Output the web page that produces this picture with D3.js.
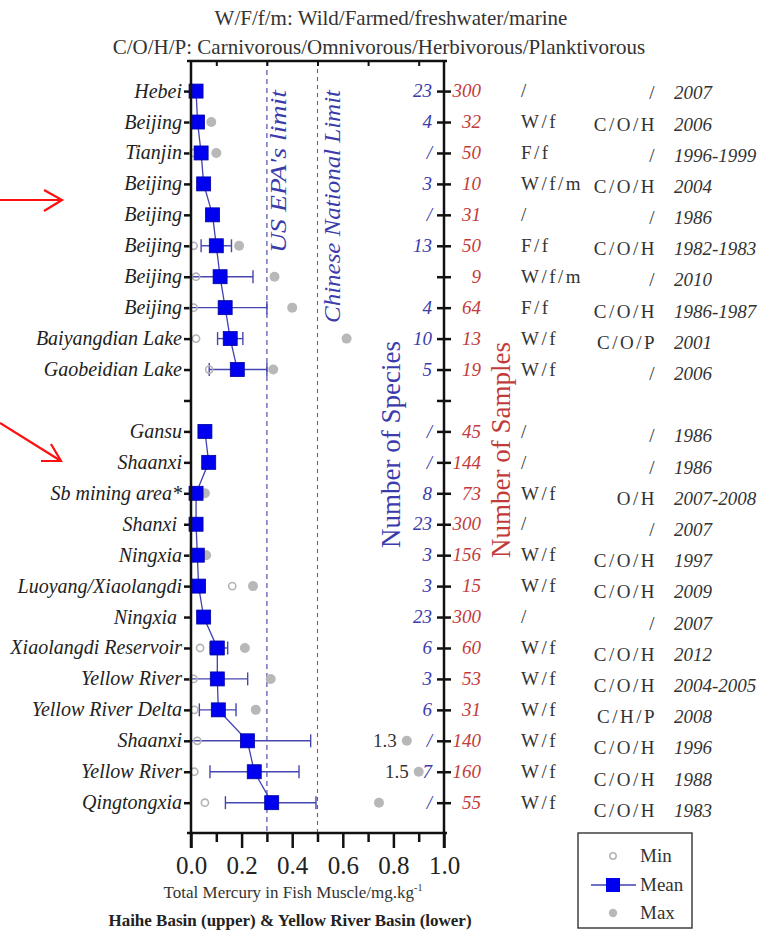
<!DOCTYPE html>
<html>
<head>
<meta charset="utf-8">
<script src="https://cdn.jsdelivr.net/npm/d3@7"></script>
</head>
<body style="margin:0; background:#fff">
<svg id="chart" width="774" height="939"></svg>
<script>
// rows top to bottom, "" = gap between Haihe basin and Yellow River basin
const regions = ["Hebei","Beijing","Tianjin","Beijing","Beijing","Beijing","Beijing","Beijing","Baiyangdian Lake","Gaobeidian Lake",
                 "","Gansu","Shaanxi","Sb mining area*","Shanxi\u00a0","Ningxia","Luoyang/Xiaolangdi","Ningxia\u00a0","Xiaolangdi Reservoir",
                 "Yellow River","Yellow River Delta","Shaanxi","Yellow River","Qingtongxia"];
const basin   = ["H","H","H","H","H","H","H","H","H","H","","Y","Y","Y","Y","Y","Y","Y","Y","Y","Y","Y","Y","Y"];
const meanV   = [0.02,0.026,0.04,0.05,0.085,0.10,0.115,0.135,0.155,0.183,null,
                 0.055,0.07,0.02,0.02,0.025,0.03,0.05,0.104,0.104,0.108,0.223,0.25,0.319];
const errLo   = [null,null,null,null,null,0.04,0.0,0.0,0.105,0.072,null,
                 null,null,null,null,null,null,null,0.075,0.0,0.033,0.0,0.075,0.136];
const errHi   = [null,null,null,null,null,0.16,0.245,0.30,0.205,0.30,null,
                 null,null,null,null,null,null,null,0.145,0.224,0.178,0.473,0.427,0.494];
const minV    = [null,0.01,0.01,null,null,0.01,0.02,0.01,0.02,0.072,null,
                 null,null,0.01,null,0.01,0.163,null,0.036,0.01,0.013,0.025,0.013,0.055];
const maxV    = [null,0.08,0.10,null,null,0.19,0.33,0.40,0.615,0.325,null,
                 null,null,0.055,null,0.06,0.245,null,0.213,0.315,0.256,1.3,1.5,0.743];
// off-scale maxima are drawn at a broken position on the x axis
const brokenAt = {1.3: 0.853, 1.5: 0.9};
const species = ["23","4","/","3","/","13","","4","10","5","",
                 "/","/","8","23","3","3","23","6","3","6","/","7","/"];
const samples = ["300","32","50","10","31","50","9","64","13","19","",
                 "45","144","73","300","156","15","300","60","53","31","140","160","55"];
const fishType = ["/","W/f","F/f","W/f/m","/","F/f","W/f/m","F/f","W/f","W/f","",
                  "/","/","W/f","/","W/f","W/f","/","W/f","W/f","W/f","W/f","W/f","W/f"];
const diet    = ["/","C/O/H","/","C/O/H","/","C/O/H","/","C/O/H","C/O/P","/","",
                 "/","/","O/H","/","C/O/H","C/O/H","/","C/O/H","C/O/H","C/H/P","C/O/H","C/O/H","C/O/H"];
const years   = ["2007","2006","1996-1999","2004","1986","1982-1983","2010","1986-1987","2001","2006","",
                 "1986","1986","2007-2008","2007","1997","2009","2007","2012","2004-2005","2008","1996","1988","1983"];
const xTicks  = [0,0.2,0.4,0.6,0.8,1.0];
const xMinor  = [0.1,0.3,0.5,0.7,0.9];
const usEpa   = 0.3;
const cnLimit = 0.5;

const idx = d3.range(regions.length);
const svg = d3.select("#chart");

const x = d3.scaleLinear().domain([0,1]).range([191,444]);
const y = d3.scaleLinear().domain([-0.94,23.98]).range([62,833]);
const yTop = 61, yBot = 833, axBot = 848;
const blue = "#3b3bab", red = "#c23b3b", ink = "#222";

// header notes
svg.append("text").attr("x",391).attr("y",25).attr("text-anchor","middle")
   .attr("font-size",21).attr("fill","#333").text("W/F/f/m: Wild/Farmed/freshwater/marine");
svg.append("text").attr("x",379).attr("y",54).attr("text-anchor","middle")
   .attr("font-size",21).attr("fill","#333").text("C/O/H/P: Carnivorous/Omnivorous/Herbivorous/Planktivorous");

// limit lines
svg.append("line").attr("x1",x(usEpa)).attr("x2",x(usEpa)).attr("y1",yTop).attr("y2",yBot)
   .attr("stroke","#5050b0").attr("stroke-width",1.2).attr("stroke-dasharray","5,4");
svg.append("line").attr("x1",x(cnLimit)).attr("x2",x(cnLimit)).attr("y1",yTop).attr("y2",yBot)
   .attr("stroke","#c83c3c").attr("stroke-width",1.1).attr("stroke-dasharray","4,4");
svg.append("text").attr("transform","translate(" + (x(usEpa)+19) + ",90) rotate(-90)")
   .attr("text-anchor","end").attr("font-size",24).attr("font-style","italic").attr("fill",blue)
   .attr("textLength",163).attr("lengthAdjust","spacingAndGlyphs")
   .text("US EPA's limit");
svg.append("text").attr("transform","translate(" + (x(cnLimit)+22) + ",90) rotate(-90)")
   .attr("text-anchor","end").attr("font-size",24).attr("font-style","italic").attr("fill",blue)
   .attr("textLength",233).attr("lengthAdjust","spacingAndGlyphs")
   .text("Chinese National Limit");

// bottom axis: major + minor ticks
const bAx = svg.append("g").attr("transform","translate(0," + yBot + ")")
  .call(d3.axisBottom(x).tickValues(xTicks).tickSize(15).tickSizeOuter(0).tickPadding(8).tickFormat(d3.format(".1f")));
bAx.select(".domain").remove();
bAx.selectAll("line").attr("stroke","#111").attr("stroke-width",2.5);
bAx.selectAll("text").attr("font-size",25).attr("fill",ink);
const bMin = svg.append("g").attr("transform","translate(0," + yBot + ")")
  .call(d3.axisBottom(x).tickValues(xMinor).tickSize(9).tickFormat(""));
bMin.select(".domain").remove();
bMin.selectAll("line").attr("stroke","#111").attr("stroke-width",2.5);

// top axis: small inward ticks
const tAx = svg.append("g").attr("transform","translate(0," + yTop + ")")
  .call(d3.axisBottom(x).tickValues(xMinor).tickSize(5).tickFormat(""));
tAx.select(".domain").remove();
tAx.selectAll("line").attr("stroke","#111").attr("stroke-width",2);

// left axis with site names
const lAx = svg.append("g").attr("transform","translate(" + x(0) + ",0)")
  .call(d3.axisLeft(y).tickValues(idx).tickSize(7).tickPadding(2).tickFormat(i => regions[i]));
lAx.select(".domain").remove();
lAx.selectAll("line").attr("stroke","#111").attr("stroke-width",2.5);
lAx.selectAll("text").attr("font-size",20).attr("font-style","italic")
   .attr("fill",ink).attr("dy","0.3em");

// right axis: crossing ticks
[d3.axisLeft, d3.axisRight].forEach(fn => {
  const g = svg.append("g").attr("transform","translate(" + x(1) + ",0)")
    .call(fn(y).tickValues(idx).tickSize(7).tickFormat(""));
  g.select(".domain").remove();
  g.selectAll("line").attr("stroke","#111").attr("stroke-width",2.5);
});

// error bars
const eb = svg.append("g").attr("stroke","#4646b0").attr("stroke-width",1.4);
idx.filter(i => errLo[i] != null).forEach(i => {
  eb.append("line").attr("x1",x(errLo[i])).attr("x2",x(errHi[i])).attr("y1",y(i)).attr("y2",y(i));
  [errLo[i], errHi[i]].forEach(v => {
    eb.append("line").attr("x1",x(v)).attr("x2",x(v)).attr("y1",y(i)-6.5).attr("y2",y(i)+6.5);
  });
});

// min (open) and max (filled) circles
svg.append("g").selectAll("circle").data(idx.filter(i => minV[i] != null)).enter()
  .append("circle").attr("cx",i => x(minV[i])).attr("cy",i => y(i)).attr("r",3.6)
  .attr("fill","none").attr("stroke","#b4b4b4").attr("stroke-width",1.6);
svg.append("g").selectAll("circle").data(idx.filter(i => maxV[i] != null)).enter()
  .append("circle").attr("cx",i => x(brokenAt[maxV[i]] || maxV[i])).attr("cy",i => y(i)).attr("r",5)
  .attr("fill","#b8b8b8");
svg.append("g").selectAll("text").data(idx.filter(i => brokenAt[maxV[i]])).enter()
  .append("text").attr("x",i => x(brokenAt[maxV[i]]) - 10).attr("y",i => y(i)).attr("dy","0.32em")
  .attr("text-anchor","end").attr("font-size",19).attr("fill","#333").text(i => maxV[i].toFixed(1));

// mean line per basin
const meanLine = d3.line().x(i => x(meanV[i])).y(i => y(i));
["H","Y"].forEach(b => {
  svg.append("path").attr("d", meanLine(idx.filter(i => basin[i] === b)))
    .attr("fill","none").attr("stroke","#4040b0").attr("stroke-width",1.3);
});
svg.append("g").selectAll("rect").data(idx.filter(i => meanV[i] != null)).enter()
  .append("rect").attr("x",i => x(meanV[i]) - 7).attr("y",i => y(i) - 7)
  .attr("width",14).attr("height",14).attr("fill","#0000f0").attr("stroke","#0000a0").attr("stroke-width",0.8);

// frame lines (drawn over the squares)
const frame = svg.append("g").attr("stroke","#111").attr("stroke-width",2.5);
frame.append("line").attr("x1",187).attr("x2",447).attr("y1",yTop).attr("y2",yTop);
frame.append("line").attr("x1",187).attr("x2",447).attr("y1",yBot).attr("y2",yBot);
frame.append("line").attr("x1",x(0)).attr("x2",x(0)).attr("y1",yTop).attr("y2",axBot);
frame.append("line").attr("x1",x(1)).attr("x2",x(1)).attr("y1",yTop).attr("y2",axBot);

// rotated column titles
svg.append("text").attr("transform","translate(400,548) rotate(-90)").attr("font-size",27)
   .attr("fill",blue).text("Number of Species");
svg.append("text").attr("transform","translate(510,558) rotate(-90)").attr("font-size",27)
   .attr("fill",red).text("Number of Samples");

// table columns
const cols = svg.append("g");
const shift = i => 2 + i * 0.25;
cols.selectAll(".sp").data(idx).enter().append("text").attr("class","sp")
  .attr("x",432).attr("y",i => y(i)).attr("dy","0.33em").attr("text-anchor","end")
  .attr("font-size",19).attr("font-style","italic").attr("fill",blue).text(i => species[i]);
cols.selectAll(".sa").data(idx).enter().append("text").attr("class","sa")
  .attr("x",481).attr("y",i => y(i)).attr("dy","0.33em").attr("text-anchor","end")
  .attr("font-size",19).attr("font-style","italic").attr("fill",red).text(i => samples[i]);
cols.selectAll(".ty").data(idx).enter().append("text").attr("class","ty")
  .attr("x",521).attr("y",i => y(i)).attr("dy","0.33em")
  .attr("font-size",19).attr("letter-spacing",2.5).attr("fill","#333").text(i => fishType[i]);
cols.selectAll(".di").data(idx).enter().append("text").attr("class","di")
  .attr("x",657).attr("y",i => y(i) + shift(i)).attr("dy","0.33em").attr("text-anchor","end")
  .attr("font-size",19).attr("letter-spacing",2.5).attr("fill","#333").text(i => diet[i]);
cols.selectAll(".yr").data(idx).enter().append("text").attr("class","yr")
  .attr("x",674).attr("y",i => y(i) + shift(i)).attr("dy","0.33em")
  .attr("font-size",19).attr("font-style","italic").attr("fill","#333").text(i => years[i]);

// axis titles
const xt = svg.append("text").attr("x",293).attr("y",898).attr("text-anchor","middle")
   .attr("font-size",17).attr("fill","#333");
xt.append("tspan").text("Total Mercury in Fish Muscle/mg.kg");
xt.append("tspan").attr("dy",-7).attr("font-size",10).text("-1");
svg.append("text").attr("x",290).attr("y",926).attr("text-anchor","middle")
   .attr("font-size",17).attr("font-weight","bold").attr("fill",ink)
   .text("Haihe Basin (upper) & Yellow River Basin (lower)");

// legend
const lg = svg.append("g");
lg.append("rect").attr("x",578).attr("y",833).attr("width",114).attr("height",95)
  .attr("fill","#fff").attr("stroke","#333").attr("stroke-width",1.4);
lg.append("circle").attr("cx",613).attr("cy",856).attr("r",3.2).attr("fill","none")
  .attr("stroke","#b4b4b4").attr("stroke-width",1.5);
lg.append("line").attr("x1",591).attr("x2",636).attr("y1",885).attr("y2",885)
  .attr("stroke","#4040b0").attr("stroke-width",1.3);
lg.append("rect").attr("x",606).attr("y",878).attr("width",14).attr("height",14).attr("fill","#0000f0");
lg.append("circle").attr("cx",613).attr("cy",913).attr("r",4.2).attr("fill","#b8b8b8");
lg.selectAll(".lt").data(["Min","Mean","Max"]).enter().append("text").attr("class","lt")
  .attr("x",640).attr("y",(d,k) => 856 + k * 28.5).attr("dy","0.33em")
  .attr("font-size",19).attr("fill","#333").text(d => d);

// red annotation arrows
const ar = svg.append("g").attr("stroke","#ff1010").attr("stroke-width",2.2).attr("fill","none");
ar.append("line").attr("x1",0).attr("y1",200).attr("x2",62).attr("y2",200);
ar.append("polyline").attr("points","44,190 62,200 44,211");
ar.append("line").attr("x1",0).attr("y1",423).attr("x2",61).attr("y2",461);
ar.append("polyline").attr("points","51,444 61,461 41,461");

// serif everywhere
svg.selectAll("text").style("font-family", "'Liberation Serif'");
</script>
</body>
</html>
